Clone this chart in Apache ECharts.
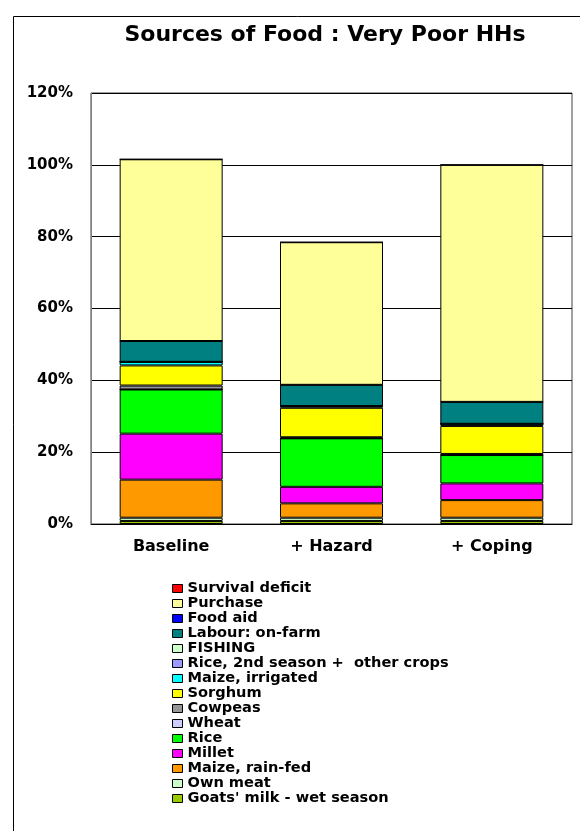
<!DOCTYPE html>
<html>
<head>
<meta charset="utf-8">
<script src="https://cdn.jsdelivr.net/npm/echarts@6/dist/echarts.min.js"></script>
<style>
  html, body { margin: 0; padding: 0; background: #fff; }
  #chart { width: 580px; height: 831px; }
</style>
</head>
<body>
<div id="chart"></div>
<script>
// Categories along the x axis
const categories = ['Baseline', '+ Hazard', '+ Coping'];

// Share of food needs (%) by source, listed bottom of stack to top
const goatsMilk       = [0.85, 0.85, 0.85];
const ownMeat         = [0.9, 0.9, 0.9];
const maizeRainFed    = [10.6, 4.0, 4.9];
const millet          = [12.8, 4.6, 4.65];
const rice            = [12.3, 13.5, 7.9];
const wheat           = [0, 0, 0];
const cowpeas         = [1.1, 0.3, 0.3];
const sorghum         = [5.6, 8.2, 7.8];
const maizeIrrigated  = [1.0, 0.5, 0.6];
const riceSecond      = [0, 0, 0];
const fishing         = [0, 0, 0];
const labourOnFarm    = [5.8, 5.9, 6.1];
const foodAid         = [0, 0, 0];
const purchase        = [50.6, 39.7, 66.0];
const survivalDeficit = [0, 0, 0];

// Y axis ticks (%)
const yTicks = [0, 20, 40, 60, 80, 100, 120];

const sources = [
  { name: "Goats' milk - wet season", data: goatsMilk, color: '#99CC00' },
  { name: 'Own meat', data: ownMeat, color: '#CCFFCC' },
  { name: 'Maize, rain-fed', data: maizeRainFed, color: '#FF9900' },
  { name: 'Millet', data: millet, color: '#FF00FF' },
  { name: 'Rice', data: rice, color: '#00FF00' },
  { name: 'Wheat', data: wheat, color: '#CCCCFF' },
  { name: 'Cowpeas', data: cowpeas, color: '#969696' },
  { name: 'Sorghum', data: sorghum, color: '#FFFF00' },
  { name: 'Maize, irrigated', data: maizeIrrigated, color: '#00FFFF' },
  { name: 'Rice, 2nd season +  other crops', data: riceSecond, color: '#9999FF' },
  { name: 'FISHING', data: fishing, color: '#CCFFCC' },
  { name: 'Labour: on-farm', data: labourOnFarm, color: '#008080' },
  { name: 'Food aid', data: foodAid, color: '#0000FF' },
  { name: 'Purchase', data: purchase, color: '#FFFF99' },
  { name: 'Survival deficit', data: survivalDeficit, color: '#FF0000' }
];

const FONT = 'DejaVu Sans';

const chart = echarts.init(document.getElementById('chart'), null, { renderer: 'canvas' });

chart.setOption({
  animation: false,
  backgroundColor: '#fff',
  graphic: [
    {
      type: 'rect',
      shape: { x: 13.5, y: 16.5, width: 700, height: 900 },
      style: { fill: 'none', stroke: '#000', lineWidth: 1 },
      silent: true,
      z: -10
    },
    {
      type: 'text',
      x: 325,
      y: 24,
      style: {
        text: 'Sources of Food : Very Poor HHs',
        font: 'bold 22px "DejaVu Sans"',
        fill: '#000',
        textAlign: 'center',
        textVerticalAlign: 'top'
      },
      silent: true
    }
  ],
  grid: {
    left: 91,
    right: 8,
    top: 93,
    bottom: 307,
    show: true,
    borderColor: '#404040',
    borderWidth: 1,
    backgroundColor: 'transparent'
  },
  legend: {
    orient: 'vertical',
    left: 167,
    top: 576,
    itemWidth: 10,
    itemHeight: 8,
    itemGap: 0,
    selectedMode: false,
    icon: 'rect',
    data: sources.slice().reverse().map(s => s.name),
    itemStyle: { borderColor: '#000', borderWidth: 1 },
    textStyle: {
      fontFamily: FONT,
      fontWeight: 'bold',
      fontSize: 14.6,
      lineHeight: 15,
      color: '#000'
    }
  },
  xAxis: {
    type: 'category',
    data: categories,
    axisLine: { lineStyle: { color: '#000', width: 1 } },
    axisTick: { show: false },
    axisLabel: {
      margin: 15,
      fontFamily: FONT,
      fontWeight: 'bold',
      fontSize: 16,
      color: '#000'
    }
  },
  yAxis: {
    type: 'value',
    min: yTicks[0],
    max: yTicks[yTicks.length - 1],
    interval: 20,
    axisLine: { show: true, lineStyle: { color: '#808080', width: 1 } },
    axisTick: { show: false },
    splitLine: { lineStyle: { color: '#000', width: 1 } },
    axisLabel: {
      margin: 18,
      formatter: '{value}%',
      fontFamily: FONT,
      fontWeight: 'bold',
      fontSize: 15,
      color: '#000'
    }
  },
  series: sources.map(s => ({
    name: s.name,
    type: 'bar',
    stack: 'food',
    barWidth: 103,
    data: s.data,
    itemStyle: { color: s.color, borderColor: '#000', borderWidth: 1 },
    emphasis: { disabled: true }
  }))
});
</script>
</body>
</html>
